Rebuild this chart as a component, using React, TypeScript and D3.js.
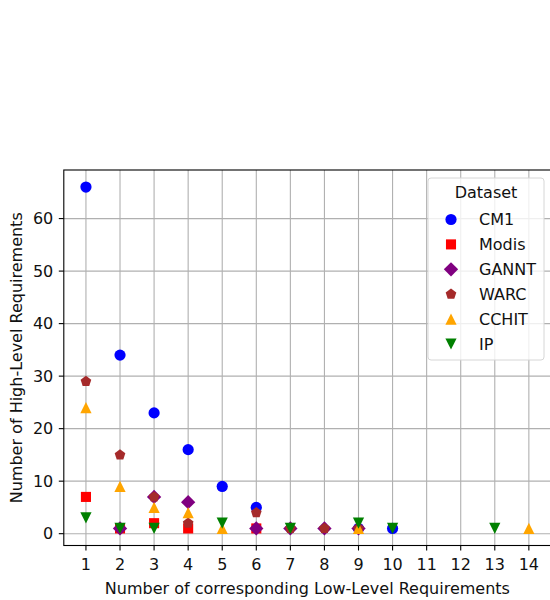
import React from "react";
import * as d3 from "d3";

type Pt = [number, number];

const datasets = ["CM1", "Modis", "GANNT", "WARC", "CCHIT", "IP"];
const cm1: Pt[] = [[1, 66], [2, 34], [3, 23], [4, 16], [5, 9], [6, 5], [9, 1], [10, 1]];
const modis: Pt[] = [[1, 7], [2, 1], [3, 2], [4, 1], [6, 1]];
const gannt: Pt[] = [[2, 1], [3, 7], [4, 6], [6, 1], [7, 1], [8, 1], [9, 1]];
const warc: Pt[] = [[1, 29], [2, 15], [3, 7], [4, 2], [6, 4], [7, 1], [8, 1], [9, 1]];
const cchit: Pt[] = [[1, 24], [2, 9], [3, 5], [4, 4], [5, 1], [9, 1], [14, 1]];
const ip: Pt[] = [[1, 3], [2, 1], [3, 1], [5, 2], [7, 1], [9, 2], [10, 1], [13, 1]];
const seriesData = [cm1, modis, gannt, warc, cchit, ip];
const colors = ["#0000ff", "#ff0000", "#800080", "#a52a2a", "#ffa500", "#008000"];
const markers = ["o", "s", "D", "p", "^", "v"];
const xTicks = [1, 2, 3, 4, 5, 6, 7, 8, 9, 10, 11, 12, 13, 14];
const yTicks = [0, 10, 20, 30, 40, 50, 60];

const W = 550, H = 600;
const L = 63.8, R = 551, T = 170, B = 545.5;
const MS = 11.2;
const FS = 16;
const TXT = "#111";

function markerPath(m: string, s: number): string {
  const h = s / 2;
  switch (m) {
    case "o": {
      const p = d3.path();
      p.arc(0, 0, h, 0, Math.PI * 2);
      return p.toString();
    }
    case "s":
      return `M${-h * 0.9},${-h * 0.9}H${h * 0.9}V${h * 0.9}H${-h * 0.9}Z`;
    case "D": {
      const d = h * 1.28;
      return `M0,${-d}L${d},0L0,${d}L${-d},0Z`;
    }
    case "p": {
      const pts = d3.range(5).map((i) => {
        const a = -Math.PI / 2 + (i * 2 * Math.PI) / 5;
        return [h * Math.cos(a), h * Math.sin(a)];
      });
      return "M" + pts.map((q) => q.join(",")).join("L") + "Z";
    }
    case "^":
      return `M0,${-h}L${h},${h}L${-h},${h}Z`;
    case "v":
      return `M0,${h}L${h},${-h}L${-h},${-h}Z`;
  }
  return "";
}

export default function App() {
  const x = d3.scaleLinear().domain([0.35, 14.65]).range([L, R]);
  const y = d3.scaleLinear().domain([-2.25, 69.25]).range([B, T]);
  const font = "DejaVu Sans, sans-serif";
  const legX = 428, legY = 178, legW = 116, legH = 182;
  return (
    <svg width={W} height={H} style={{ position: "absolute", left: 0, top: 0 }} fontFamily={font}>
      <rect x={0} y={0} width={W} height={H} fill="#fff" />
      {/* grid */}
      {xTicks.map((t) => (
        <line key={"gx" + t} x1={x(t)} x2={x(t)} y1={T} y2={B} stroke="#b0b0b0" strokeWidth={1.1} />
      ))}
      {yTicks.map((t) => (
        <line key={"gy" + t} x1={L} x2={R} y1={y(t)} y2={y(t)} stroke="#b0b0b0" strokeWidth={1.1} />
      ))}
      {/* points */}
      {seriesData.map((pts, i) =>
        pts.map(([a, b], j) => (
          <path
            key={`p${i}-${j}`}
            d={markerPath(markers[i], MS)}
            transform={`translate(${x(a)},${y(b)})`}
            fill={colors[i]}
          />
        ))
      )}
      {/* spines */}
      <rect x={L} y={T} width={R - L} height={B - T} fill="none" stroke="#000" strokeWidth={1.1} />
      {/* x ticks */}
      {xTicks.map((t) => (
        <g key={"xt" + t}>
          <line x1={x(t)} x2={x(t)} y1={B} y2={B + 5} stroke="#000" strokeWidth={1.1} />
          <text x={x(t)} y={569.5} textAnchor="middle" fontSize={FS} fill={TXT}>
            {t}
          </text>
        </g>
      ))}
      {yTicks.map((t) => (
        <g key={"yt" + t}>
          <line x1={L} x2={L - 5} y1={y(t)} y2={y(t)} stroke="#000" strokeWidth={1.1} />
          <text x={L - 10.5} y={y(t)} dy="0.36em" textAnchor="end" fontSize={FS} fill={TXT}>
            {t}
          </text>
        </g>
      ))}
      <text x={(L + R) / 2} y={594} textAnchor="middle" fontSize={FS} fill={TXT}>
        Number of corresponding Low-Level Requirements
      </text>
      <text
        transform={`translate(22,${(T + B) / 2}) rotate(-90)`}
        textAnchor="middle"
        fontSize={FS}
        fill={TXT}
      >
        Number of High-Level Requirements
      </text>
      {/* legend */}
      <rect x={legX} y={legY} width={legW} height={legH} rx={3} fill="#fff" fillOpacity={0.8} stroke="#d6d6d6" strokeWidth={1} />
      <text x={legX + legW / 2} y={198} textAnchor="middle" fontSize={FS} fill={TXT}>
        Dataset
      </text>
      {datasets.map((name, i) => {
        const cy = 219.5 + i * 24.9;
        return (
          <g key={"lg" + name}>
            <path d={markerPath(markers[i], MS)} transform={`translate(451,${cy})`} fill={colors[i]} />
            <text x={479} y={cy} dy="0.36em" fontSize={FS} fill={TXT}>
              {name}
            </text>
          </g>
        );
      })}
    </svg>
  );
}
